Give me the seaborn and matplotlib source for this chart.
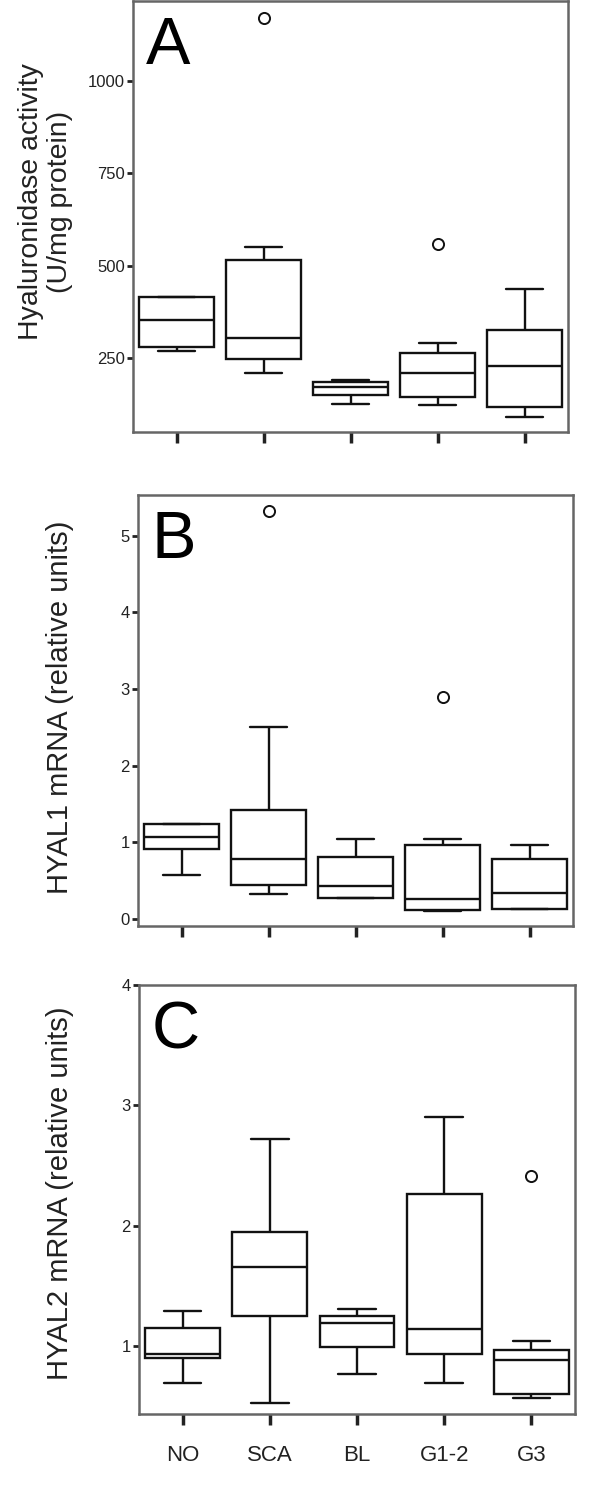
import numpy as np
import pandas as pd
import matplotlib
matplotlib.use('agg')
import matplotlib.pyplot as plt
import seaborn as sns

groups = ["NO", "SCA", "BL", "G1-2", "G3"]

# panel A - hyaluronidase activity (five-number summaries)
a_lo = [270, 211, 127, 122, 91]
a_q1 = [280, 247, 151, 144, 118]
a_med = [354, 304, 173, 211, 230]
a_q3 = [416, 516, 185, 263, 325]
a_hi = [416, 551, 190, 290, 436]
a_out = [None, 1171, None, 558, None]

# panel B - HYAL1 mRNA
b_lo = [0.57, 0.33, 0.28, 0.10, 0.13]
b_q1 = [0.92, 0.45, 0.28, 0.12, 0.13]
b_med = [1.07, 0.78, 0.43, 0.26, 0.34]
b_q3 = [1.24, 1.42, 0.81, 0.96, 0.78]
b_hi = [1.24, 2.50, 1.04, 1.04, 0.97]
b_out = [None, 5.32, None, 2.90, None]

# panel C - HYAL2 mRNA
c_lo = [0.69, 0.53, 0.77, 0.69, 0.57]
c_q1 = [0.90, 1.25, 0.99, 0.93, 0.60]
c_med = [0.93, 1.66, 1.19, 1.14, 0.88]
c_q3 = [1.15, 1.95, 1.25, 2.26, 0.97]
c_hi = [1.29, 2.72, 1.31, 2.90, 1.04]
c_out = [None, None, None, None, 2.41]


def to_frame(lo, q1, med, q3, hi, out):
    # nine values per group whose quartiles / whiskers reproduce the summary
    rows = []
    for i, g in enumerate(groups):
        last = out[i] if out[i] is not None else hi[i]
        vals = [lo[i], q1[i], q1[i], med[i], med[i], q3[i], q3[i], hi[i], last]
        for v in vals:
            rows.append({'group': g, 'value': v})
    return pd.DataFrame(rows)


sns.set_style('white')
plt.rcParams['font.family'] = ['Liberation Sans', 'DejaVu Sans']

fig = plt.figure(figsize=(6, 14.86), dpi=100)
W, H = 600, 1486


def make_axes(left, right, top, bottom):
    return fig.add_axes([left / W, 1 - bottom / H, (right - left) / W, (bottom - top) / H])


panels = [
    (to_frame(a_lo, a_q1, a_med, a_q3, a_hi, a_out), (133, 568, 1, 432), (50, 1217), [250, 500, 750, 1000], "A"),
    (to_frame(b_lo, b_q1, b_med, b_q3, b_hi, b_out), (138, 573, 495, 926), (-0.09, 5.53), [0, 1, 2, 3, 4, 5], "B"),
    (to_frame(c_lo, c_q1, c_med, c_q3, c_hi, c_out), (139, 575, 985, 1414), (0.435, 4.0), [1, 2, 3, 4], "C"),
]

for k, (df, box, ylim, yticks, letter) in enumerate(panels):
    ax = make_axes(*box)
    sns.boxplot(data=df, x='group', y='value', order=groups, ax=ax,
                color='white', linecolor='#111111', linewidth=1.7, width=0.86,
                saturation=1,
                flierprops=dict(marker='o', markerfacecolor='white',
                                markeredgecolor='#111111', markersize=8,
                                markeredgewidth=1.4))
    ax.set_xlim(-0.5, 4.5)
    ax.set_ylim(*ylim)
    ax.set_yticks(yticks)
    ax.set_xlabel('')
    ax.set_ylabel('')
    for s in ax.spines.values():
        s.set_color('#666666')
        s.set_linewidth(1.8)
        s.set_visible(True)
    ax.tick_params(axis='y', direction='out', length=4, width=2, color='#222222',
                   labelsize=12, labelcolor='#222222', pad=2, left=True)
    ax.tick_params(axis='x', direction='out', length=8, width=2.5, color='#222222',
                   labelsize=16, labelcolor='#222222', pad=14, bottom=True)
    if k < 2:
        ax.set_xticklabels([])
    ax.text(0.03, 0.965, letter, transform=ax.transAxes, fontsize=48,
            va='top', ha='left', color='black')

fig.text(31 / W, 1 - 202 / H, "Hyaluronidase activity", rotation=90,
         fontsize=20.5, ha='center', va='center', color='#222222')
fig.text(60 / W, 1 - 202 / H, "(U/mg protein)", rotation=90,
         fontsize=20.5, ha='center', va='center', color='#222222')
fig.text(60 / W, 1 - 707 / H, "HYAL1 mRNA (relative units)", rotation=90,
         fontsize=21, ha='center', va='center', color='#222222')
fig.text(60 / W, 1 - 1193 / H, "HYAL2 mRNA (relative units)", rotation=90,
         fontsize=21, ha='center', va='center', color='#222222')

fig.savefig('out.png', dpi=100, facecolor='white')
